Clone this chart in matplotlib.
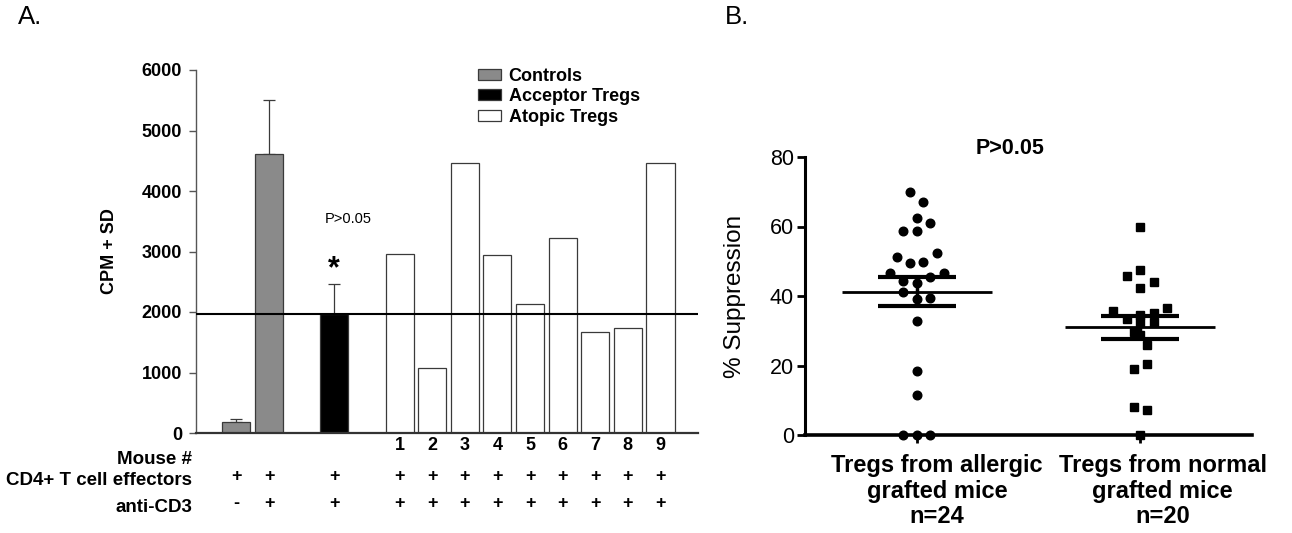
import numpy as np
import matplotlib
matplotlib.use("Agg")
import matplotlib.pyplot as plt
from matplotlib.patches import Patch

plt.rcParams["font.family"] = ["Liberation Sans", "DejaVu Sans"]

# ---- panel A data ----
bar_pos = [0, 1, 3, 5, 6, 7, 8, 9, 10, 11, 12, 13]
bar_val = [190, 4610, 1975, 2960, 1080, 4460, 2935, 2135, 3215, 1675, 1730, 4460]
bar_err = [45, 890, 480, 0, 0, 0, 0, 0, 0, 0, 0, 0]
bar_group = ["Controls", "Controls", "Acceptor Tregs"] + ["Atopic Tregs"] * 9
mouse_ids = ["1", "2", "3", "4", "5", "6", "7", "8", "9"]
cd4_row = ["+"] * 12
cd3_row = ["-"] + ["+"] * 11
ref_level = 1975
a_yticks = [0, 1000, 2000, 3000, 4000, 5000, 6000]

# ---- panel B data ----
allergic = [69.9, 67.0, 62.5, 61.1, 58.7, 58.7, 52.3, 51.1, 49.4, 49.7, 46.5, 46.7,
            44.4, 45.6, 43.8, 41.2, 39.0, 39.3, 32.9, 18.5, 11.5, 0.0, 0.0, 0.0]
allergic_dx = [-0.03, 0.03, 0, 0.06, -0.06, 0, 0.09, -0.09, -0.03, 0.03, -0.12, 0.12,
               -0.06, 0.06, 0, -0.06, 0, 0.06, 0, 0, 0, -0.06, 0, 0.06]
normal = [60.0, 47.6, 45.7, 44.1, 42.4, 35.8, 36.5, 35.0, 34.5, 33.3, 32.6, 32.6,
          29.7, 28.8, 25.9, 20.5, 19.0, 8.2, 7.2, 0.0]
normal_dx = [0, 0, -0.06, 0.06, 0, -0.12, 0.12, 0.06, 0, -0.06, 0, 0.06,
             -0.03, 0, 0.03, 0.03, -0.03, -0.03, 0.03, 0]
b_labels = ["Tregs from allergic\ngrafted mice\nn=24", "Tregs from normal\ngrafted mice\nn=20"]
b_yticks = [0, 20, 40, 60, 80]

colors = {"Controls": "#8a8a8a", "Acceptor Tregs": "#000000", "Atopic Tregs": "#ffffff"}

W, H = 1292, 533
fig = plt.figure(figsize=(W / 100, H / 100), dpi=100)

def frac(x0, y0, x1, y1):
    return [x0 / W, 1 - y1 / H, (x1 - x0) / W, (y1 - y0) / H]

# ================= Panel A =================
axA = fig.add_axes(frac(196, 70, 698, 433))
axA.bar(bar_pos, bar_val, width=0.86, color=[colors[g] for g in bar_group],
        edgecolor="#3a3a3a", linewidth=0.9, zorder=2)
err_idx = [i for i, e in enumerate(bar_err) if e > 0]
axA.errorbar([bar_pos[i] for i in err_idx], [bar_val[i] for i in err_idx],
             yerr=[[0] * len(err_idx), [bar_err[i] for i in err_idx]],
             fmt="none", ecolor="#3a3a3a", elinewidth=0.9, capsize=4, capthick=0.9, zorder=1)
axA.axhline(ref_level, color="black", lw=1.5, zorder=3)
axA.set_xlim(-1.24, 14.15)
axA.set_ylim(0, 6000)
axA.set_yticks(a_yticks)
axA.set_yticklabels([str(t) for t in a_yticks], fontsize=13, fontweight="bold")
axA.set_xticks([])
for s in ["top", "right"]:
    axA.spines[s].set_visible(False)
axA.spines["left"].set_color("#555555")
axA.spines["left"].set_linewidth(1.0)
axA.spines["bottom"].set_color("#333333")
axA.spines["bottom"].set_linewidth(1.6)
axA.tick_params(axis="y", length=5, width=1, color="#555555", pad=5)
axA.set_ylabel("CPM + SD", fontsize=13, fontweight="bold")
axA.yaxis.set_label_coords(-0.155, 0.5)

axA.text(3.44, 3530, "P>0.05", fontsize=10.5, ha="center", va="center")
axA.text(3.0, 2700, "*", fontsize=22, fontweight="bold", ha="center", va="center")

handles = [Patch(facecolor=colors[k], edgecolor="#3a3a3a", linewidth=0.9)
           for k in ["Controls", "Acceptor Tregs", "Atopic Tregs"]]
fig.legend(handles, ["Controls", "Acceptor Tregs", "Atopic Tregs"],
           loc="upper left", bbox_to_anchor=(478 / W, 1 - 68 / H), frameon=False,
           prop={"size": 13, "weight": "bold"}, handlelength=1.25, handleheight=0.55,
           handletextpad=0.45, labelspacing=0.18, borderpad=0, borderaxespad=0)

trA = axA.get_xaxis_transform()
for p, m in zip(bar_pos[3:], mouse_ids):
    axA.text(p, -0.035, m, transform=trA, fontsize=13, fontweight="bold",
             ha="center", va="center")
for p, c in zip(bar_pos, cd4_row):
    axA.text(p, -0.12, c, transform=trA, fontsize=13, fontweight="bold",
             ha="center", va="center")
for p, c in zip(bar_pos, cd3_row):
    axA.text(p, -0.193, c, transform=trA, fontsize=13, fontweight="bold",
             ha="center", va="center")
for y, lab in [(-0.073, "Mouse #"), (-0.13, "CD4+ T cell effectors"), (-0.205, "anti-CD3")]:
    axA.text(-0.008, y, lab, transform=axA.transAxes, fontsize=13.5,
             fontweight="bold", ha="right", va="center")

fig.text(18 / W, 1 - 17 / H, "A.", fontsize=18.5, ha="left", va="center")

# ================= Panel B =================
axB = fig.add_axes(frac(805, 157, 1252, 435))
groups = [(1, allergic, allergic_dx, "o"), (2, normal, normal_dx, "s")]
for pos, vals, dx, mk in groups:
    vals = np.array(vals)
    axB.plot(pos + np.array(dx), vals, linestyle="none", marker=mk, color="black",
             markersize=6.2 if mk == "o" else 5.8, zorder=3, clip_on=False)
    mean = vals.mean()
    sem = vals.std(ddof=1) / np.sqrt(len(vals))
    axB.hlines(mean, pos - 0.336, pos + 0.336, color="black", lw=2.0, zorder=4)
    axB.hlines([mean - sem, mean + sem], pos - 0.174, pos + 0.174, color="black",
               lw=3.0, zorder=4)
    axB.vlines(pos, mean - sem, mean + sem, color="black", lw=2.5, zorder=4)

axB.set_xlim(0.5, 2.5)
axB.set_ylim(0, 80)
axB.set_yticks(b_yticks)
axB.set_yticklabels([str(t) for t in b_yticks], fontsize=15.5)
axB.set_xticks([1, 2])
axB.set_xticklabels([])
for s in ["top", "right"]:
    axB.spines[s].set_visible(False)
axB.spines["left"].set_linewidth(2.2)
axB.spines["bottom"].set_linewidth(2.6)
axB.tick_params(axis="y", length=6, width=2, pad=2)
axB.tick_params(axis="x", length=6, width=2)
axB.set_ylabel("% Suppression", fontsize=17.5)
axB.yaxis.set_label_coords(-0.131, 0.5)

trB = axB.get_xaxis_transform()
for pos, lab in zip([1.09, 2.1], b_labels):
    axB.text(pos, -0.07, lab, transform=trB, fontsize=17, fontweight="bold",
             ha="center", va="top", linespacing=1.12)

fig.text(1010 / W, 1 - 148 / H, "P>0.05", fontsize=15.5, fontweight="bold",
         ha="center", va="center")
fig.text(725 / W, 1 - 17 / H, "B.", fontsize=18.5, ha="left", va="center")

fig.savefig("out.png", dpi=100)
